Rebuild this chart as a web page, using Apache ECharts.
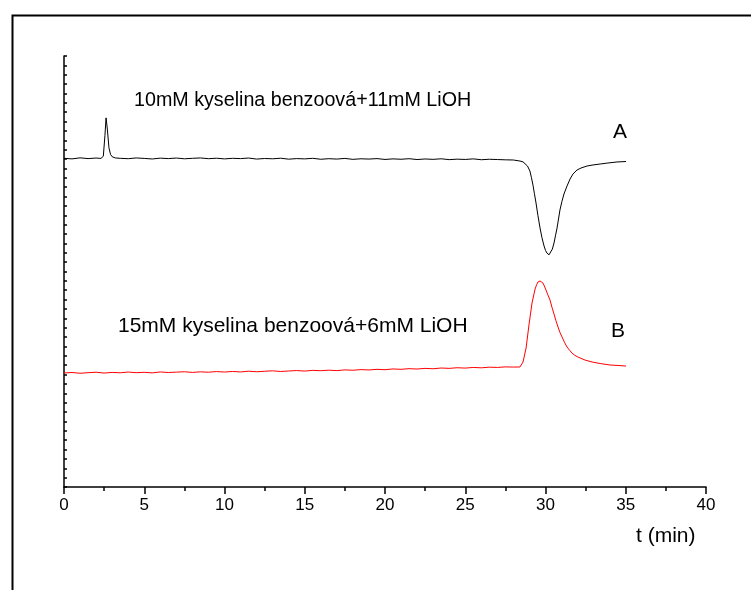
<!DOCTYPE html>
<html><head><meta charset="utf-8">
<script src="https://cdn.jsdelivr.net/npm/echarts@6/dist/echarts.min.js"></script>
<style>html,body{margin:0;padding:0;background:#fff}#c{width:751px;height:590px}</style>
</head><body><div id="c"></div>
<script>
// X axis
const xMin = 0, xMax = 40, xStep = 5;
const xTitle = 't (min)';
// Y axis (arbitrary signal units, one tick per unit)
const yMin = 0, yMax = 46;
// Series labels
const labelA = '10mM kyselina benzoová+11mM LiOH';
const labelB = '15mM kyselina benzoová+6mM LiOH';
// Series A (black) : time (min)
const tA = [0,0.5,1,1.5,2,2.3,2.45,2.55,2.62,2.7,2.8,2.9,3,3.2,3.5,4,4.5,5,5.5,6,6.5,7,7.5,8,8.5,9,9.5,10,10.5,11,11.5,12,12.5,13,13.5,14,14.5,15,15.5,16,16.5,17,17.5,18,18.5,19,19.5,20,20.5,21,21.5,22,22.5,23,23.5,24,24.5,25,25.5,26,26.5,27,27.5,28,28.41,28.6,28.72,28.88,29.03,29.12,29.22,29.31,29.41,29.53,29.66,29.78,29.91,30.0,30.09,30.15,30.22,30.28,30.34,30.43,30.53,30.62,30.72,30.81,30.9,31.02,31.15,31.34,31.53,31.71,31.96,32.21,32.59,32.96,33.4,33.89,34.45,35.02];
// Series A signal
const vA = [35.08,35.02,35.13,35.05,35.11,35.07,35.3,37.5,39.4,38.2,36.2,35.5,35.25,35.12,35.08,35.04,35.12,35.07,35.01,35.1,35.05,35.11,35.03,35.08,35.12,35.04,35.09,35.02,35.08,35.05,35.11,35.0,35.06,35.03,35.09,34.99,35.05,35.02,35.08,34.98,35.04,35.0,35.07,34.97,35.03,35.0,35.05,34.96,35.02,34.98,35.04,34.95,35.01,34.97,35.03,34.94,34.99,34.96,35.02,34.93,34.98,34.95,34.92,34.9,34.79,34.7,34.58,34.25,33.72,33.05,32.22,31.3,30.31,28.95,27.64,26.6,25.72,25.25,24.97,24.84,24.78,24.83,24.97,25.4,26.04,26.8,27.64,28.6,29.56,30.45,31.27,32.12,32.87,33.4,33.83,34.04,34.26,34.37,34.47,34.58,34.69,34.74];
// Series B (red) : time (min)
const tB = [0,0.5,1,1.5,2,2.5,3,3.5,4,4.5,5,5.5,6,6.5,7,7.5,8,8.5,9,9.5,10,10.5,11,11.5,12,12.5,13,13.5,14,14.5,15,15.5,16,16.5,17,17.5,18,18.5,19,19.5,20,20.5,21,21.5,22,22.5,23,23.5,24,24.5,25,25.5,26,26.5,27,27.5,28,28.41,28.6,28.79,28.97,29.16,29.35,29.45,29.53,29.6,29.66,29.75,29.84,29.93,30.03,30.15,30.28,30.4,30.53,30.65,30.78,30.9,31.03,31.18,31.34,31.5,31.65,31.83,32.02,32.46,32.9,33.4,34.02,34.52,35.02];
// Series B signal
const vB = [12.17,12.22,12.14,12.2,12.25,12.16,12.23,12.19,12.27,12.2,12.24,12.18,12.28,12.22,12.26,12.3,12.23,12.29,12.25,12.32,12.27,12.33,12.28,12.36,12.3,12.35,12.4,12.33,12.38,12.43,12.37,12.45,12.41,12.47,12.42,12.5,12.46,12.53,12.49,12.56,12.52,12.6,12.56,12.63,12.59,12.66,12.62,12.7,12.66,12.73,12.69,12.76,12.72,12.79,12.76,12.82,12.8,12.81,13.34,14.83,17.29,19.64,21.13,21.6,21.88,21.97,21.99,21.93,21.77,21.45,21.02,20.5,19.96,19.2,18.46,17.75,17.08,16.5,16.01,15.45,14.94,14.6,14.3,14.05,13.87,13.55,13.34,13.18,13.02,12.97,12.91];

const dataA = tA.map((t,i)=>[t,vA[i]]);
const dataB = tB.map((t,i)=>[t,vB[i]]);
const FONT = '"Liberation Sans", Arial, sans-serif';

const chart = echarts.init(document.getElementById('c'));
chart.setOption({
  animation: false,
  backgroundColor: '#fff',
  grid: {left: 64, right: 45, top: 56, bottom: 103},
  xAxis: {
    type: 'value', min: xMin, max: xMax, interval: xStep,
    axisLine: {show: true, lineStyle: {color: '#000', width: 1.5}},
    axisTick: {show: true, inside: false, length: 7, lineStyle: {color: '#000', width: 1.5}},
    minorTick: {show: true, splitNumber: 2, length: 4, lineStyle: {color: '#000', width: 1.5}},
    axisLabel: {color: '#000', fontSize: 17, fontFamily: FONT, margin: 10},
    splitLine: {show: false}
  },
  yAxis: {
    type: 'value', min: yMin, max: yMax, interval: 1,
    axisLine: {show: true, lineStyle: {color: '#000', width: 1.5}},
    axisTick: {show: true, inside: true, length: 3, lineStyle: {color: '#000', width: 1.5}},
    axisLabel: {show: false},
    splitLine: {show: false}
  },
  series: [
    {type: 'line', data: dataA, showSymbol: false, lineStyle: {color: '#000', width: 1}, itemStyle: {color: '#000'}},
    {type: 'line', data: dataB, showSymbol: false, lineStyle: {color: '#ff0000', width: 1}, itemStyle: {color: '#ff0000'}}
  ],
  graphic: [
    {type: 'rect', left: 10, top: 13, shape: {width: 800, height: 700}, style: {fill: 'none', stroke: '#000', lineWidth: 2}, silent: true},
    {type: 'text', left: 134, top: 91, style: {text: labelA, font: '19.7px ' + FONT, fill: '#000'}},
    {type: 'text', left: 613, top: 122, style: {text: 'A', font: '21px ' + FONT, fill: '#000'}},
    {type: 'text', left: 118, top: 316, style: {text: labelB, font: '21px ' + FONT, fill: '#000'}},
    {type: 'text', left: 611, top: 321, style: {text: 'B', font: '21px ' + FONT, fill: '#000'}},
    {type: 'text', left: 636, top: 526, style: {text: xTitle, font: '21px ' + FONT, fill: '#000'}}
  ]
});
</script></body></html>
